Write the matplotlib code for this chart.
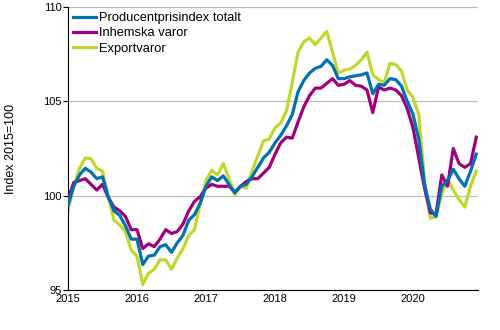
import numpy as np
import matplotlib
matplotlib.use("Agg")
import matplotlib.pyplot as plt

plt.rcParams['font.family'] = ['Liberation Sans', 'DejaVu Sans']

# monthly index values, Jan 2015 - Dec 2020 (2015=100)
years = ['2015', '2016', '2017', '2018', '2019', '2020']

total = [99.5, 100.5, 101.1, 101.45, 101.25, 100.9, 101.0, 99.95, 99.2, 98.95, 98.4, 97.7,
         97.7, 96.35, 96.8, 96.85, 97.3, 97.4, 97.0, 97.5, 97.9, 98.7, 99.0, 99.6,
         100.5, 101.0, 100.8, 101.05, 100.6, 100.15, 100.5, 100.6, 101.0, 101.5, 102.0, 102.3,
         102.8, 103.2, 103.7, 104.3, 105.5, 106.1, 106.5, 106.75, 106.85, 107.2, 106.9, 106.2,
         106.2, 106.3, 106.35, 106.4, 106.5, 105.4, 105.9, 105.85, 106.2, 106.15, 105.8, 105.0,
         104.3, 103.0, 100.6, 99.3, 98.9, 100.5, 100.8, 101.4, 100.9, 100.5, 101.3, 102.2]

domestic = [99.8, 100.7, 100.8, 100.9, 100.6, 100.3, 100.6, 99.9, 99.4, 99.2, 98.9, 98.2,
            98.2, 97.2, 97.45, 97.3, 97.7, 98.2, 98.0, 98.1, 98.5, 99.2, 99.7, 99.95,
            100.4, 100.6, 100.5, 100.5, 100.5, 100.2, 100.5, 100.75, 100.9, 100.9, 101.2, 101.5,
            102.2, 102.8, 103.1, 103.05, 103.9, 104.7, 105.3, 105.7, 105.7, 105.95, 106.2, 105.85,
            105.9, 106.1, 105.85, 105.8, 105.6, 104.4, 105.75, 105.6, 105.7, 105.6, 105.3, 104.6,
            103.6, 102.0, 100.4, 99.1, 99.0, 101.1, 100.5, 102.5, 101.7, 101.5, 101.7, 103.1]

export = [99.2, 100.5, 101.45, 102.0, 101.95, 101.45, 101.3, 99.95, 98.7, 98.45, 98.1, 97.1,
          96.8, 95.3, 95.9, 96.1, 96.6, 96.6, 96.1, 96.7, 97.2, 97.9, 98.2, 99.6,
          100.8, 101.35, 101.1, 101.7, 100.9, 100.05, 100.5, 100.4, 101.3, 102.1, 102.9, 103.0,
          103.6, 103.85, 104.5, 106.0, 107.6, 108.15, 108.35, 108.0, 108.35, 108.7, 107.6, 106.5,
          106.65, 106.7, 106.9, 107.2, 107.6, 106.4, 106.15, 106.0, 107.0, 106.95, 106.6, 105.6,
          105.2, 104.3, 100.8, 98.8, 98.9, 100.1, 100.9, 100.3, 99.8, 99.4, 100.5, 101.3]

x = np.arange(len(total))

fig = plt.figure(figsize=(5, 3.3), dpi=100)
ax = fig.add_axes([0.136, 0.121, 0.82, 0.858])

ax.plot(x, total, color='#0072b0', lw=2.3, label='Producentprisindex totalt', zorder=4)
ax.plot(x, domestic, color='#a1007d', lw=2.3, label='Inhemska varor', zorder=3)
ax.plot(x, export, color='#c2d62e', lw=2.3, label='Exportvaror', zorder=2)

ax.set_xlim(0, 71.3)
ax.set_ylim(95, 110)
ax.set_yticks([95, 100, 105, 110])
ax.set_xticks(np.arange(0, 72, 12))
ax.set_xticklabels(years)
ax.tick_params(axis='x', length=0, labelsize=8, pad=3)
ax.tick_params(axis='y', length=3.6, labelsize=8, pad=1)
ax.grid(axis='y', color='#bdbdbd', lw=0.9)
ax.set_axisbelow(True)
for s in ['top', 'right']:
    ax.spines[s].set_visible(False)
ax.set_ylabel('Index 2015=100', fontsize=9)
ax.yaxis.set_label_coords(-0.125, 0.5)

ax.legend(loc='upper left', frameon=False, fontsize=9.3, handlelength=1.75,
          handletextpad=0.25, labelspacing=0.25, borderaxespad=0, borderpad=0.4,
          bbox_to_anchor=(0.0, 1.0))

fig.savefig('out.png', dpi=100)
